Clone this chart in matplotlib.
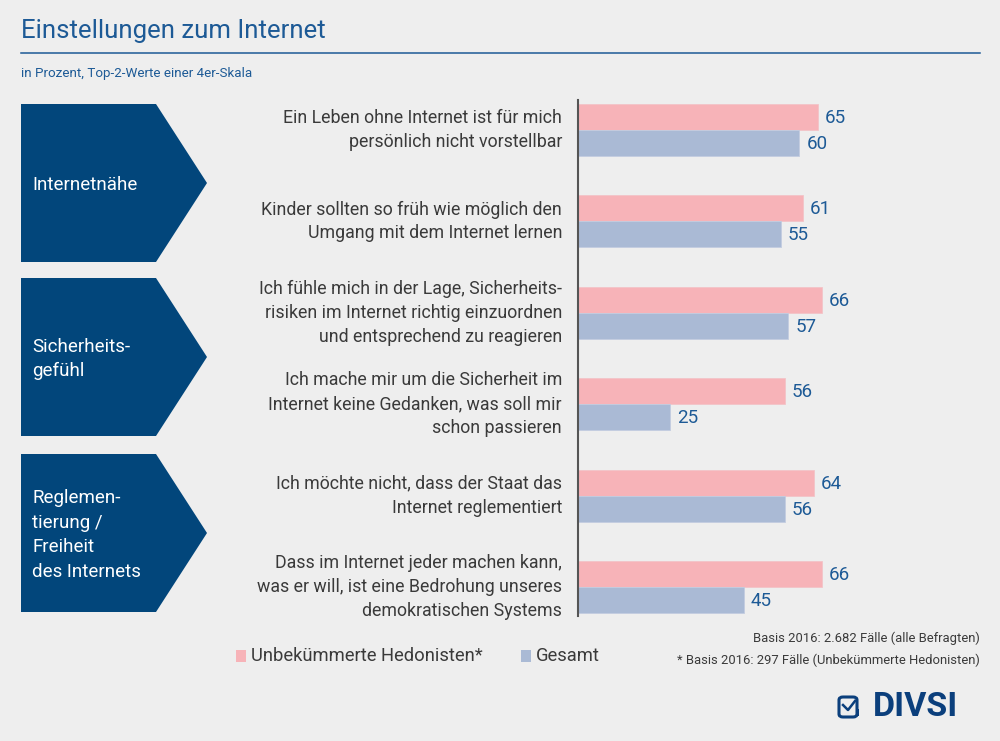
import matplotlib.pyplot as plt
from matplotlib.patches import Polygon, Rectangle, FancyBboxPatch
from matplotlib.lines import Line2D
import numpy as np

plt.rcParams['font.family'] = ['Roboto', 'DejaVu Sans']

statements = [
    "Ein Leben ohne Internet ist für mich\npersönlich nicht vorstellbar",
    "Kinder sollten so früh wie möglich den\nUmgang mit dem Internet lernen",
    "Ich fühle mich in der Lage, Sicherheits-\nrisiken im Internet richtig einzuordnen\nund entsprechend zu reagieren",
    "Ich mache mir um die Sicherheit im\nInternet keine Gedanken, was soll mir\nschon passieren",
    "Ich möchte nicht, dass der Staat das\nInternet reglementiert",
    "Dass im Internet jeder machen kann,\nwas er will, ist eine Bedrohung unseres\ndemokratischen Systems",
]
hedonisten = [65, 61, 66, 56, 64, 66]
gesamt = [60, 55, 57, 25, 56, 45]
groups = ["Internetnähe", "Sicherheits-\ngefühl", "Reglemen-\ntierung /\nFreiheit\ndes Internets"]
series_names = ["Unbekümmerte Hedonisten*", "Gesamt"]

BG = '#eeeeee'
PINK = '#f7b3b8'
BLUE = '#aabad5'
DARK = '#02467b'
TITLE = '#1d5a96'
TXT = '#3a3a3a'

W, H = 1000, 741
fig = plt.figure(figsize=(W / 100, H / 100), dpi=100, facecolor=BG)


def fx(x):
    return x / W


def fy(y):
    return 1 - y / H


# title and subtitle
fig.text(fx(21), fy(31), "Einstellungen zum Internet", fontsize=18.5, color=TITLE,
         va='center', ha='left')
fig.add_artist(Line2D([fx(21), fx(980)], [fy(53), fy(53)], color=TITLE, lw=1.1))
fig.text(fx(21), fy(73), "in Prozent, Top-2-Werte einer 4er-Skala", fontsize=9.6,
         color=TITLE, va='center', ha='left')

# group arrows
box_tops = [104, 278, 454]
box_h = 158
for name, top in zip(groups, box_tops):
    pts = [(21, top), (156, top), (207, top + box_h / 2), (156, top + box_h), (21, top + box_h)]
    fig.add_artist(Polygon([(fx(x), fy(y)) for x, y in pts], closed=True,
                           facecolor=DARK, edgecolor='none'))
    fig.text(fx(32), fy(top + box_h / 2 + 2), name, fontsize=13.5, color='white',
             va='center', ha='left', linespacing=1.46)

# bar axes
ax_left, ax_right, ax_top, ax_bot = 578, 980, 100, 616
px_per_unit = 3.69
ax = fig.add_axes([fx(ax_left), fy(ax_bot), fx(ax_right - ax_left), (ax_bot - ax_top) / H])
ax.set_facecolor('none')
row_px = 91.4
first_center = 130 - ax_top
ylo = -first_center / row_px
yhi = ylo + (ax_bot - ax_top) / row_px
ax.set_ylim(yhi, ylo)
ax.set_xlim(0, (ax_right - ax_left) / px_per_unit)
bh = 26 / row_px
y = np.arange(len(statements))
ax.barh(y - bh / 2, hedonisten, height=bh, color=PINK, edgecolor='#f3c4c8', lw=0.6)
ax.barh(y + bh / 2, gesamt, height=bh, color=BLUE, edgecolor='#c3cde0', lw=0.6)
for yi, v in zip(y, hedonisten):
    ax.text(v + 7 / px_per_unit, yi - bh / 2 + 0.01, str(v), va='center', ha='left',
            fontsize=13.5, color=TITLE)
for yi, v in zip(y, gesamt):
    ax.text(v + 7 / px_per_unit, yi + bh / 2 + 0.01, str(v), va='center', ha='left',
            fontsize=13.5, color=TITLE)
for yi, s in zip(y, statements):
    ax.text(-16 / px_per_unit, yi, s, va='center', ha='right', multialignment='right',
            fontsize=12.8, color=TXT, linespacing=1.42, clip_on=False)
for sp in ['top', 'right', 'bottom']:
    ax.spines[sp].set_visible(False)
ax.spines['left'].set_color('#555555')
ax.spines['left'].set_linewidth(1.5)
ax.set_xticks([])
ax.set_yticks([])

# legend
fig.add_artist(Rectangle((fx(236), fy(662)), fx(10), 12 / H, facecolor=PINK, edgecolor='none'))
fig.text(fx(251), fy(656), series_names[0], fontsize=13.2, color=TXT, va='center', ha='left')
fig.add_artist(Rectangle((fx(521), fy(662)), fx(10), 12 / H, facecolor=BLUE, edgecolor='none'))
fig.text(fx(536), fy(656), series_names[1], fontsize=13.2, color=TXT, va='center', ha='left')

# footnotes
fig.text(fx(980), fy(638), "Basis 2016: 2.682 Fälle (alle Befragten)", fontsize=9.4,
         color=TXT, va='center', ha='right')
fig.text(fx(980), fy(660), "* Basis 2016: 297 Fälle (Unbekümmerte Hedonisten)", fontsize=9.4,
         color=TXT, va='center', ha='right')

# logo
LOGO = '#0b3f7c'
fig.add_artist(FancyBboxPatch((fx(839), fy(717)), fx(18), 20 / H,
                              boxstyle='round,pad=0,rounding_size=0.004',
                              facecolor='none', edgecolor=LOGO, lw=2.2))
fig.add_artist(Line2D([fx(843), fx(848), fx(855)], [fy(705), fy(710), fy(701)],
                      color=LOGO, lw=1.8))
fig.add_artist(Rectangle((fx(856), fy(716)), fx(3), 7 / H, facecolor=LOGO, edgecolor='none'))
fig.text(fx(873), fy(707), "DIVSI", fontsize=24.5, fontweight='bold', color=LOGO,
         va='center', ha='left')

fig.savefig('out.png', dpi=100, facecolor=BG)
